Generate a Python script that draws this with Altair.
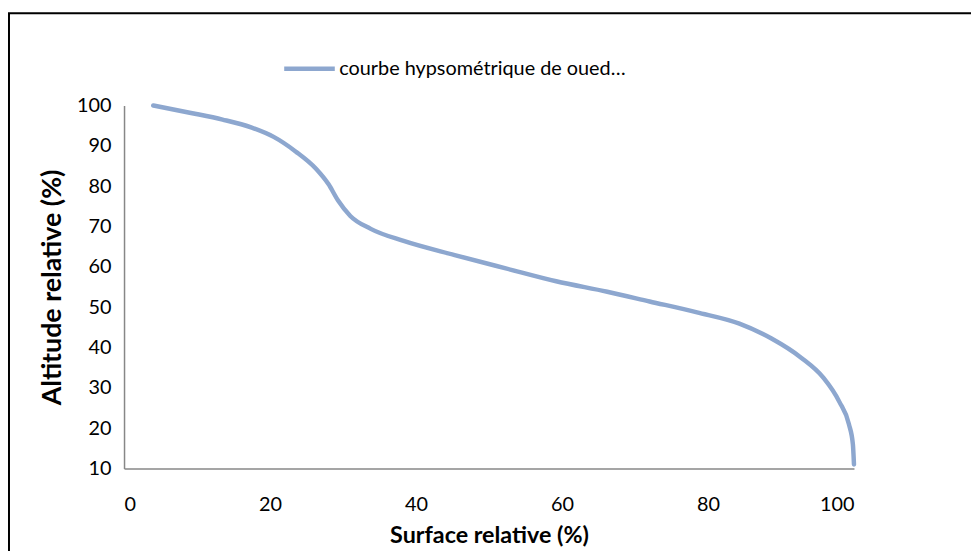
import altair as alt
import pandas as pd

series_name = "courbe hypsométrique de oued…"
surface = [4.0, 9.0, 13.5, 17.5, 20.5, 23.5, 26.3, 28.0, 29.3, 31.0, 33.8, 38.3, 45.3,
           52.3, 59.2, 66.2, 72.0, 78.5, 84.3, 88.7, 92.8, 95.8, 98.0, 99.3, 99.85, 100.0]
altitude = [100.0, 98.2, 96.5, 94.5, 92.2, 88.6, 84.3, 80.5, 76.5, 72.6, 69.4, 66.4, 62.9,
            59.6, 56.4, 53.8, 51.4, 48.7, 45.9, 42.2, 37.4, 32.5, 26.5, 21.0, 16.0, 11.0]
x_ticks = [0, 20, 40, 60, 80, 100]
y_ticks = [10, 20, 30, 40, 50, 60, 70, 80, 90, 100]

df = pd.DataFrame({"surface": surface, "altitude": altitude, "serie": [series_name] * len(surface)})

FONT = "Lato"
LINE_COLOR = "#8DA7CF"
W, H = 736, 366

line = alt.Chart(df).mark_line(strokeWidth=4.5, interpolate="monotone", strokeCap="round").encode(
    x=alt.X("surface:Q", title="Surface relative (%)",
            scale=alt.Scale(domain=[0, 100], nice=False, zero=False),
            axis=alt.Axis(values=x_ticks)),
    y=alt.Y("altitude:Q", title="Altitude relative (%)",
            scale=alt.Scale(domain=[10, 100], nice=False, zero=False),
            axis=alt.Axis(values=y_ticks)),
    color=alt.Color("serie:N", scale=alt.Scale(range=[LINE_COLOR]),
                    legend=alt.Legend(title=None, orient="none", legendX=159, legendY=-65,
                                      symbolType="stroke", symbolSize=2601,
                                      symbolStrokeWidth=4.5, labelOffset=2,
                                      padding=0, labelFontSize=20, labelFont=FONT,
                                      labelColor="#000000", labelLimit=600)),
)

frame = alt.Chart(pd.DataFrame({"f": [0]})).mark_rect(
    fill="white", fillOpacity=0, stroke="black", strokeWidth=2
).encode(
    x=alt.value(-116), x2=alt.value(W + 300),
    y=alt.value(-93), y2=alt.value(H + 300),
)

chart = alt.layer(frame, line).properties(
    width=W, height=H,
    autosize=alt.AutoSizeParams(type="none"),
    padding={"left": 117, "top": 96, "right": 118, "bottom": 81},
).configure_view(stroke=None).configure_axis(
    grid=False, ticks=False, domainColor="#878787", domainWidth=1.5,
    labelFont=FONT, labelFontSize=20, labelColor="#000000",
    titleFont=FONT, titleFontWeight="bold", titleColor="#000000",
).configure_axisX(labelPadding=26, titlePadding=10, titleFontSize=23.5).configure_axisY(
    labelPadding=13, titlePadding=10, titleFontSize=27)

chart.save("out.html", embed_options={"renderer": "svg", "actions": False})
